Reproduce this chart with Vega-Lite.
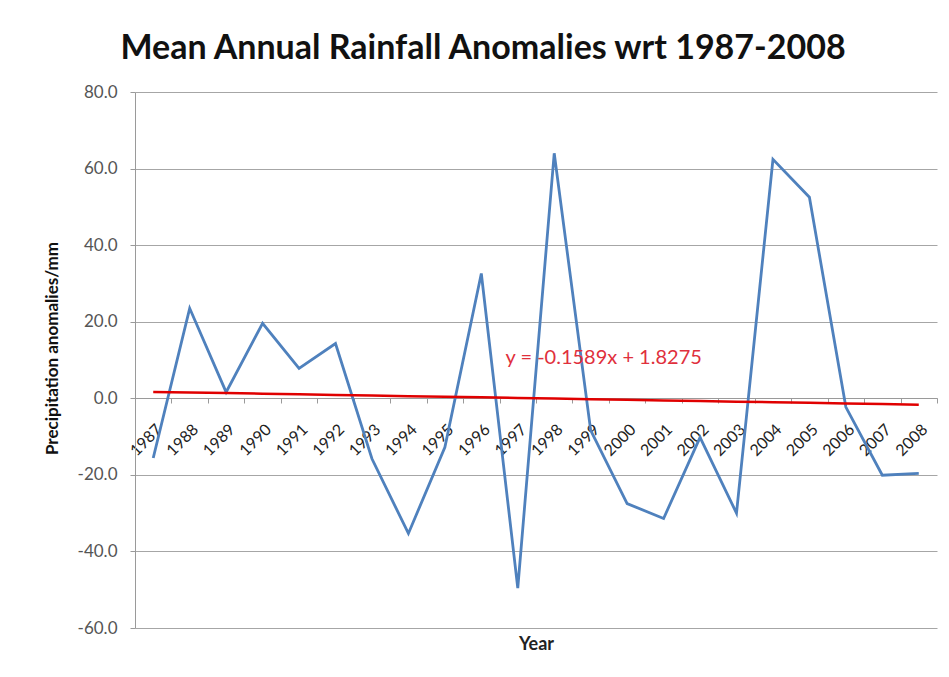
{
  "$schema": "https://vega.github.io/schema/vega-lite/v6.json",
  "width": 802,
  "height": 536,
  "autosize": {"type": "none"},
  "padding": {"left": 135, "top": 92, "right": 12, "bottom": 49},
  "background": "white",
  "config": {"view": {"stroke": null}},
  "title": {
    "text": "Mean Annual Rainfall Anomalies wrt 1987-2008",
    "font": "Lato",
    "fontSize": 34,
    "fontWeight": "bold",
    "color": "#111111",
    "anchor": "middle",
    "frame": "group",
    "dx": -53,
    "dy": 36,
    "baseline": "alphabetic",
    "offset": 26
  },
  "data": {
    "values": [
      {"year": "1987", "anomaly": -15.6, "trend": 1.6686},
      {"year": "1988", "anomaly": 23.5, "trend": 1.5097},
      {"year": "1989", "anomaly": 1.6, "trend": 1.3508},
      {"year": "1990", "anomaly": 19.6, "trend": 1.1919},
      {"year": "1991", "anomaly": 7.8, "trend": 1.033},
      {"year": "1992", "anomaly": 14.3, "trend": 0.8741},
      {"year": "1993", "anomaly": -15.8, "trend": 0.7152},
      {"year": "1994", "anomaly": -35.3, "trend": 0.5563},
      {"year": "1995", "anomaly": -12.8, "trend": 0.3974},
      {"year": "1996", "anomaly": 32.6, "trend": 0.2385},
      {"year": "1997", "anomaly": -49.6, "trend": 0.0796},
      {"year": "1998", "anomaly": 64.0, "trend": -0.0793},
      {"year": "1999", "anomaly": -8.4, "trend": -0.2382},
      {"year": "2000", "anomaly": -27.5, "trend": -0.3971},
      {"year": "2001", "anomaly": -31.4, "trend": -0.556},
      {"year": "2002", "anomaly": -10.2, "trend": -0.7149},
      {"year": "2003", "anomaly": -30.0, "trend": -0.8738},
      {"year": "2004", "anomaly": 62.4, "trend": -1.0327},
      {"year": "2005", "anomaly": 52.5, "trend": -1.1916},
      {"year": "2006", "anomaly": -2.3, "trend": -1.3505},
      {"year": "2007", "anomaly": -20.1, "trend": -1.5094},
      {"year": "2008", "anomaly": -19.6, "trend": -1.6683}
    ]
  },
  "layer": [
    {
      "mark": {"type": "line", "color": "#4F81BD", "strokeWidth": 2.8},
      "encoding": {
        "x": {
          "field": "year",
          "type": "ordinal",
          "bandPosition": 0.5,
          "scale": {"type": "band", "paddingInner": 0, "paddingOuter": 0},
          "axis": {
            "title": "Year",
            "titleFont": "Lato",
            "titleFontSize": 18,
            "titleFontWeight": "bold",
            "titleColor": "#222222",
            "titleBaseline": "middle",
            "titleY": 246,
            "labelAngle": -45,
            "labelFont": "Lato",
            "labelFontSize": 16,
            "labelColor": "#222222",
            "labelBaseline": "top",
            "labelAlign": "right",
            "labelPadding": 18,
            "labelOffset": 0,
            "offset": -230,
            "domainColor": "#9a9a9a",
            "tickColor": "#9a9a9a",
            "tickSize": 5,
            "tickBand": "extent",
            "grid": false
          }
        },
        "y": {
          "field": "anomaly",
          "type": "quantitative",
          "scale": {"domain": [-60, 80], "nice": false, "zero": false},
          "axis": {
            "title": "Precipitation anomalies/mm",
            "titleFont": "Lato",
            "titleFontSize": 17,
            "titleFontWeight": "bold",
            "titleColor": "#111111",
            "titlePadding": 16,
            "titleY": 256,
            "values": [-60, -40, -20, 0, 20, 40, 60, 80],
            "format": ".1f",
            "labelExpr": "replace(datum.label, '\u2212', '-')",
            "labelFont": "Lato",
            "labelFontSize": 17,
            "labelColor": "#555555",
            "labelPadding": 13,
            "tickSize": 5,
            "tickColor": "#9a9a9a",
            "domainColor": "#9a9a9a",
            "grid": true,
            "gridColor": "#a6a6a6",
            "gridWidth": 1
          }
        }
      }
    },
    {
      "mark": {"type": "line", "color": "#E00000", "strokeWidth": 2.5},
      "encoding": {
        "x": {"field": "year", "type": "ordinal", "bandPosition": 0.5},
        "y": {"field": "trend", "type": "quantitative"}
      }
    },
    {
      "data": {"values": [{"year": "1999", "pos": 10.4, "label": "y = -0.1589x + 1.8275"}]},
      "mark": {"type": "text", "color": "#E0303C", "font": "Lato", "fontSize": 20, "align": "center", "baseline": "middle", "dx": 13},
      "encoding": {
        "x": {"field": "year", "type": "ordinal", "bandPosition": 0.5},
        "y": {"field": "pos", "type": "quantitative"},
        "text": {"field": "label"}
      }
    }
  ]
}
